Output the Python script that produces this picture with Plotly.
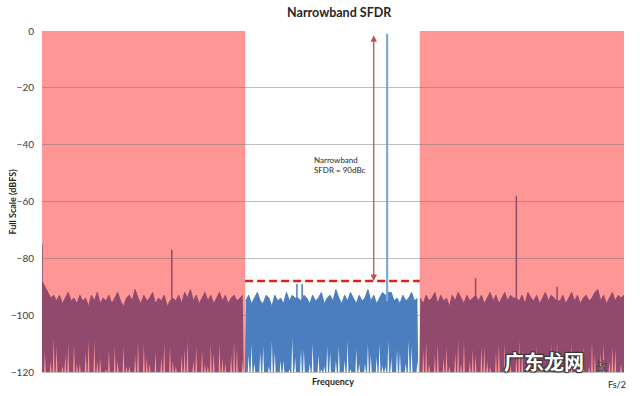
import plotly.graph_objects as go

# ---------------- data (dBFS) ----------------
bin_width = 0.005  # normalised frequency (Fs/2 = 1)

# noise-floor upper envelope per bin
left_start = 0.0
left_top = [-88, -90, -92, -94, -93, -95, -93, -96, -94, -92,
            -95, -94, -96, -93, -95, -94, -97, -93, -95, -92,
            -96, -94, -95, -93, -96, -94, -92, -95, -97, -94,
            -93, -95, -91, -94, -96, -93, -95, -94, -92, -96,
            -94, -95, -93, -97, -95, -94, -95, -93, -96, -92,
            -94, -91, -95, -93, -96, -94, -92, -95, -93, -96,
            -94, -92, -95, -93, -96, -94, -93, -95, -94, -93]
# deepest null per bin (-120 = no visible null)
left_bottom = [-120, -113, -120, -116, -108, -111, -120, -118, -114, -110,
               -120, -110, -117, -117, -120, -113, -109, -120, -109, -116,
               -115, -120, -119, -112, -120, -111, -116, -120, -111, -118,
               -118, -120, -114, -109, -120, -110, -115, -117, -120, -113,
               -120, -115, -110, -120, -111, -116, -118, -120, -114, -112,
               -109, -120, -116, -111, -120, -112, -117, -118, -110, -113,
               -120, -110, -115, -117, -120, -114, -109, -112, -120, -116]

mid_start = 0.35
mid_top = [-95, -93, -96, -94, -92, -95, -96, -93, -94, -97,
           -93, -95, -94, -96, -92, -95, -93, -94, -94, -95,
           -93, -94, -96, -93, -95, -94, -92, -96, -94, -93,
           -95, -91, -94, -96, -93, -95, -92, -94, -96, -93,
           -95, -94, -91, -95, -93, -96, -94, -92, -93, -92,
           -92, -95, -94, -96, -93, -95, -94, -92, -95, -94]
mid_bottom = [-120, -114, -110, -117, -120, -113, -111, -120, -118, -109,
              -113, -120, -116, -116, -120, -119, -108, -115, -120, -112,
              -112, -120, -117, -110, -120, -114, -119, -118, -111, -113,
              -120, -116, -111, -120, -116, -109, -119, -120, -112, -117,
              -120, -117, -110, -114, -120, -115, -110, -118, -118, -109,
              -115, -120, -112, -113, -120, -117, -109, -111, -120, -116]

right_start = 0.65
right_top = [-94, -96, -93, -95, -94, -92, -96, -93, -95, -94,
             -97, -93, -95, -92, -94, -96, -93, -95, -94, -93,
             -95, -93, -96, -94, -92, -95, -93, -96, -94, -92,
             -95, -93, -94, -94, -95, -93, -96, -92, -94, -95,
             -93, -96, -94, -92, -95, -93, -94, -95, -95, -93,
             -96, -94, -92, -95, -93, -96, -94, -93, -95, -94,
             -92, -91, -95, -93, -96, -94, -92, -95, -93, -94,
             -93]
right_bottom = [-120, -112, -109, -117, -120, -114, -110, -120, -115, -111,
                -118, -120, -113, -109, -117, -109, -120, -116, -112, -114,
                -120, -111, -111, -116, -118, -120, -113, -110, -120, -110,
                -115, -117, -120, -115, -109, -112, -120, -113, -116, -120,
                -111, -117, -118, -120, -114, -110, -120, -109, -116, -117,
                -120, -113, -110, -120, -115, -112, -111, -120, -118, -109,
                -114, -120, -113, -110, -120, -116, -111, -112, -120, -117,
                -120]

# discrete spectral lines (tone and spurs)
spur_freq = [0.0, 0.223, 0.438, 0.447, 0.593, 0.745, 0.815, 0.885]
spur_level = [-75, -77, -89, -89, -1, -87, -58, -90]
spur_base = -95

band_low, band_high = 0.349, 0.649      # narrowband window (white)
sfdr_level = -88                          # dashed line
tone_level = -1
sfdr_arrow_x = 0.57
y_ticks = [0, -20, -40, -60, -80, -100, -120]

# ---------------- styles ----------------
PINK = "#FF9696"
MAROON = "#914A6E"
BLUE = "#4A7EBE"
TONE = "#7FA7D8"
FONT = "Lato"
FLOOR = -120

fig = go.Figure()


def add_segment(start, top, bottom, color):
    xs = [start + i * bin_width for i in range(len(top))]
    # nulls drawn as narrow notches around each bin centre
    bx, by = [], []
    for x, b in zip(xs, bottom):
        bx += [x - 0.3 * bin_width, x, x + 0.3 * bin_width]
        by += [FLOOR, b, FLOOR]
    fig.add_trace(go.Scatter(x=bx, y=by, mode="lines",
                             line=dict(width=0, color=color),
                             hoverinfo="skip", showlegend=False))
    fig.add_trace(go.Scatter(x=xs, y=top, mode="lines", fill="tonexty",
                             fillcolor=color,
                             line=dict(width=1, color=color),
                             showlegend=False))


add_segment(left_start, left_top, left_bottom, MAROON)
add_segment(mid_start, mid_top, mid_bottom, BLUE)
add_segment(right_start, right_top, right_bottom, MAROON)

for f, lvl in zip(spur_freq, spur_level):
    in_band = band_low <= f <= band_high
    if lvl > -10:
        col, w = TONE, 2.2
    else:
        col, w = (BLUE if in_band else MAROON), 1.5
    fig.add_trace(go.Scatter(x=[f, f], y=[spur_base, lvl], mode="lines",
                             line=dict(color=col, width=w),
                             showlegend=False))

# pink out-of-band regions
fig.add_shape(type="rect", xref="x", yref="y", x0=0, x1=band_low,
              y0=-120, y1=0, fillcolor=PINK, line_width=0, layer="below")
fig.add_shape(type="rect", xref="x", yref="y", x0=band_high, x1=1.0,
              y0=-120, y1=0, fillcolor=PINK, line_width=0, layer="below")

# SFDR dashed line
fig.add_shape(type="line", xref="x", yref="y", x0=band_low, x1=band_high,
              y0=sfdr_level, y1=sfdr_level,
              line=dict(color="#E0201E", width=2.5, dash="8px,4px"))

# double-headed arrow
fig.add_annotation(x=sfdr_arrow_x, y=sfdr_level, ax=sfdr_arrow_x, ay=tone_level,
                   xref="x", yref="y", axref="x", ayref="y", text="",
                   showarrow=True, arrowside="end+start", arrowhead=2,
                   arrowsize=1, arrowwidth=1.3, arrowcolor="#C0504D")

fig.add_annotation(x=0.512, y=-47, xref="x", yref="y",
                   text="Narrowband<br>SFDR = 90dBc", showarrow=False,
                   align="left", font=dict(family=FONT, size=8, color="#262626"))

# y-axis title
fig.add_annotation(x=-30 / 582, y=0.5, xref="paper", yref="paper",
                   text="<b>Full Scale (dBFS)</b>", showarrow=False,
                   textangle=-90, xanchor="center", yanchor="middle",
                   font=dict(family=FONT, size=9, color="#262626"))

fig.add_annotation(x=1.0, y=0, xref="paper", yref="paper", yshift=-5,
                   xshift=4, text="Fs/2", showarrow=False, xanchor="right",
                   yanchor="top", font=dict(family=FONT, size=9, color="#262626"))

# watermark
fig.add_annotation(x=0.935, y=0, xref="paper", yref="paper", yshift=-6,
                   text="<b>广东龙网</b>", showarrow=False, xanchor="right",
                   yanchor="bottom",
                   font=dict(family="Noto Sans CJK SC", size=20, color="white",
                             shadow="1px 1px 1px #333, -1px -1px 1px #333, 1px -1px 1px #333, -1px 1px 1px #333"))
fig.add_annotation(x=0.975, y=0, xref="paper", yref="paper", yshift=-4,
                   text="战", showarrow=False, xanchor="right",
                   yanchor="bottom",
                   font=dict(family="Noto Sans CJK SC", size=12, color="#444444"))

fig.update_layout(
    width=640, height=396,
    margin=dict(l=42, r=16, t=31, b=24, autoexpand=False),
    paper_bgcolor="white", plot_bgcolor="white",
    title=dict(text="<b>Narrowband SFDR</b>", x=0.53, xanchor="center",
               y=1 - 13 / 396, yref="container", yanchor="middle",
               font=dict(family=FONT, size=12.5, color="#262626")),
    font=dict(family=FONT),
    showlegend=False,
)
fig.update_xaxes(range=[0, 1], showticklabels=False, showgrid=False,
                 zeroline=False, showline=True, linecolor="#BFBFBF",
                 linewidth=1, ticks="", automargin=False,
                 title=dict(text="<b>Frequency</b>", standoff=6,
                            font=dict(family=FONT, size=9, color="#262626")))
fig.update_yaxes(range=[-120, 0], tickvals=y_ticks,
                 tickfont=dict(family=FONT, size=10, color="#404040"),
                 showgrid=True, gridcolor="rgba(110,110,110,0.45)",
                 gridwidth=1, zeroline=False, showline=False, ticks="",
                 ticklabelstandoff=7, automargin=False)

fig.write_html("out.html", config={"displayModeBar": False},
               post_script="document.body.style.margin='0';")
